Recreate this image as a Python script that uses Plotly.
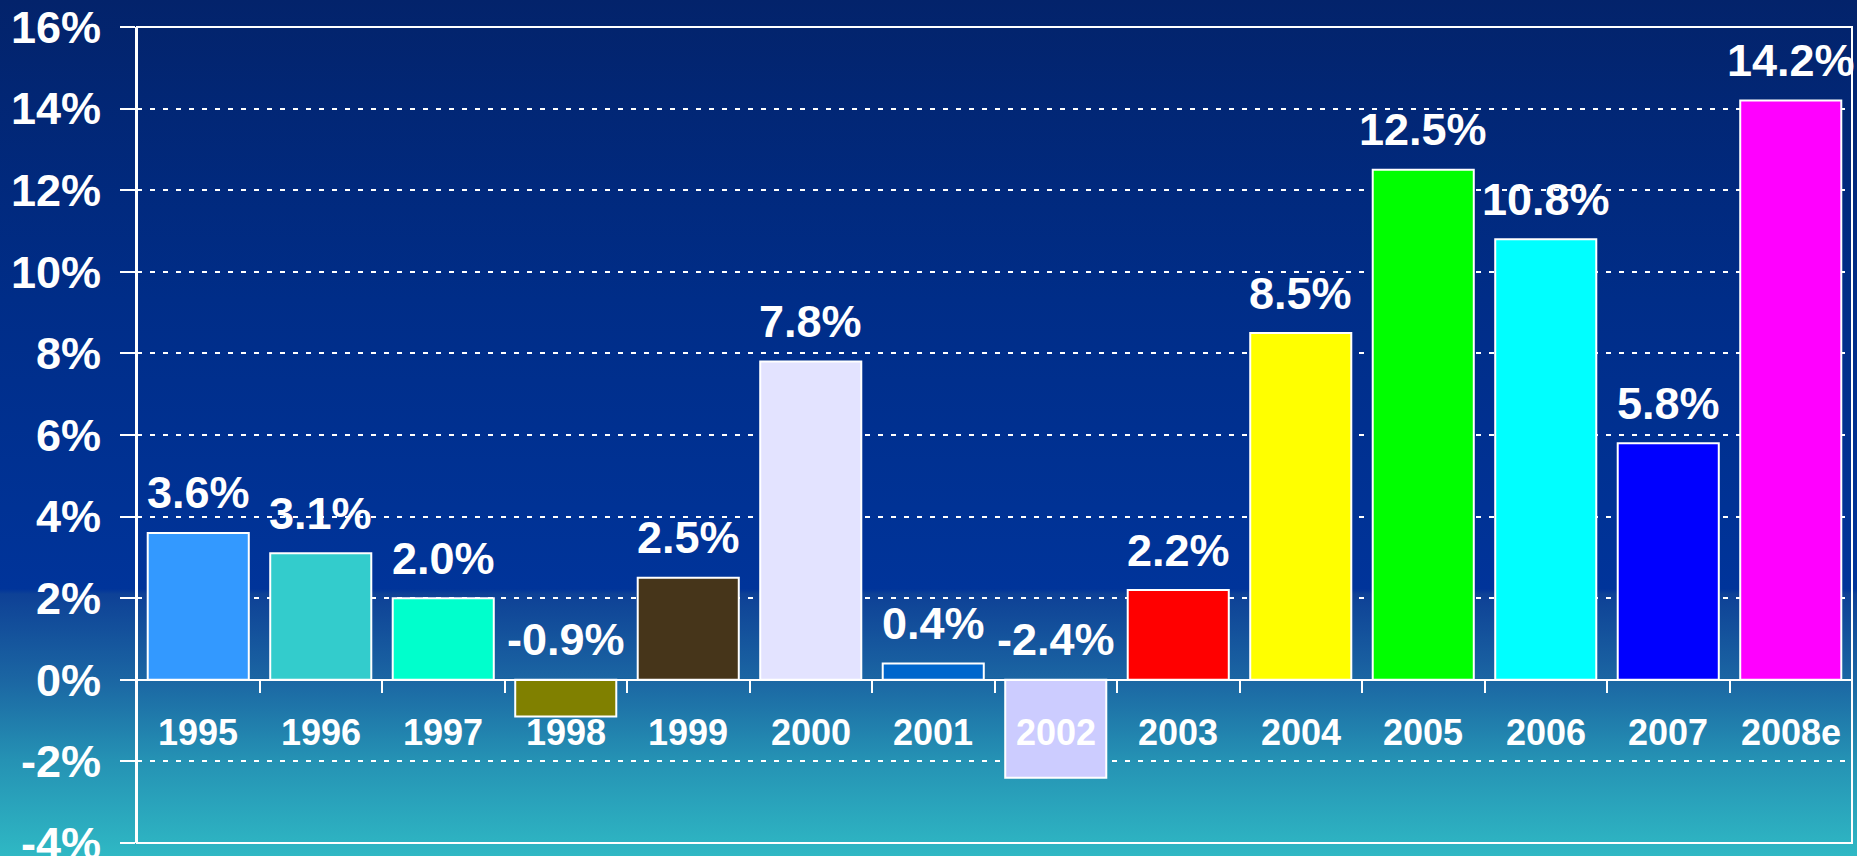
import plotly.graph_objects as go

# ---- data ----
categories = ['1995', '1996', '1997', '1998', '1999', '2000', '2001',
              '2002', '2003', '2004', '2005', '2006', '2007', '2008e']
values = [3.6, 3.1, 2.0, -0.9, 2.5, 7.8, 0.4, -2.4, 2.2, 8.5, 12.5, 10.8, 5.8, 14.2]
bar_colors = ['#3399ff', '#33cccc', '#00ffcc', '#808000', '#46351a', '#e3e3ff',
              '#0066cc', '#ccccff', '#ff0000', '#ffff00', '#00ff00', '#00ffff',
              '#0000ff', '#ff00ff']
y_ticks = [-4, -2, 0, 2, 4, 6, 8, 10, 12, 14, 16]

W, H = 1857, 856
FONT = 'Liberation Sans, Arial, sans-serif'

# plot-area geometry (pixels)
px_left, px_right = 137, 1852
px_top, px_bottom = 27, 843
xdom = [px_left / W, px_right / W]
ydom = [(H - px_bottom) / H, (H - px_top) / H]
ymin, ymax = -4, 16
zero_pos = ydom[0] + (0 - ymin) / (ymax - ymin) * (ydom[1] - ydom[0])

fig = go.Figure()

# background gradient over whole page
fig.add_trace(go.Scatter(
    x=[0, 1, 1, 0, 0], y=[0, 0, 1, 1, 0], mode='lines', fill='toself',
    line=dict(width=0), hoverinfo='skip', showlegend=False,
    fillgradient=dict(type='vertical', start=0, stop=1, colorscale=[
        [0.0, '#2fb8c4'], [0.112, '#2592b4'], [0.206, '#1b66a3'],
        [0.306, '#0e4196'], [0.312, '#00349a'], [0.65, '#002d88'],
        [1.0, '#03236b']]),
    xaxis='x', yaxis='y'))

fig.add_trace(go.Bar(
    x=categories, y=values,
    marker=dict(color=bar_colors, line=dict(color='white', width=2)),
    hoverinfo='skip', showlegend=False,
    xaxis='x2', yaxis='y2'))

annotations = []
for i, (c, v) in enumerate(zip(categories, values)):
    annotations.append(dict(
        x=i, y=max(v, 0), xref='x2', yref='y2', text=f'{v:.1f}%',
        showarrow=False, yanchor='middle', yshift=40,
        font=dict(family=FONT, size=45, color='white', weight='bold')))
    annotations.append(dict(
        x=i, y=-1.3, xref='x2', yref='y2', text=c,
        showarrow=False, yanchor='middle',
        font=dict(family=FONT, size=36, color='white', weight='bold')))

fig.update_layout(
    width=W, height=H, autosize=False, showlegend=False,
    margin=dict(l=0, r=0, t=0, b=0, pad=0, autoexpand=False),
    paper_bgcolor='#0b3a8f', plot_bgcolor='rgba(0,0,0,0)',
    bargap=0.175,
    xaxis=dict(domain=[0, 1], range=[0, 1], visible=False, fixedrange=True),
    yaxis=dict(domain=[0, 1], range=[0, 1], visible=False, fixedrange=True),
    xaxis2=dict(domain=xdom, anchor='free', position=zero_pos,
                type='category', range=[-0.5, len(categories) - 0.5],
                showline=True, linecolor='white', linewidth=2,
                ticks='outside', tickson='boundaries', ticklen=12,
                tickcolor='white', tickwidth=2, automargin=False,
                showticklabels=False, showgrid=False, zeroline=False),
    yaxis2=dict(domain=ydom, anchor='x2', range=[ymin, ymax],
                tickvals=y_ticks, ticktext=[f'{t}%' for t in y_ticks],
                showline=True, linecolor='white', linewidth=2,
                ticks='outside', ticklen=15, tickcolor='white', tickwidth=2,
                automargin=False, ticklabeloverflow='allow', ticklabelstandoff=10,
                tickfont=dict(family=FONT, size=45, color='white', weight='bold'),
                showgrid=True, gridcolor='white', gridwidth=2, griddash='5px,8px',
                zeroline=False),
    annotations=annotations,
    shapes=[dict(type='rect', xref='x2 domain', yref='y2 domain',
                 x0=0, x1=1, y0=0, y1=1, line=dict(color='white', width=2))],
)

fig.write_html('out.html', config={'displayModeBar': False},
               post_script="document.body.style.margin='0';"
                           "document.body.style.overflow='hidden';")
